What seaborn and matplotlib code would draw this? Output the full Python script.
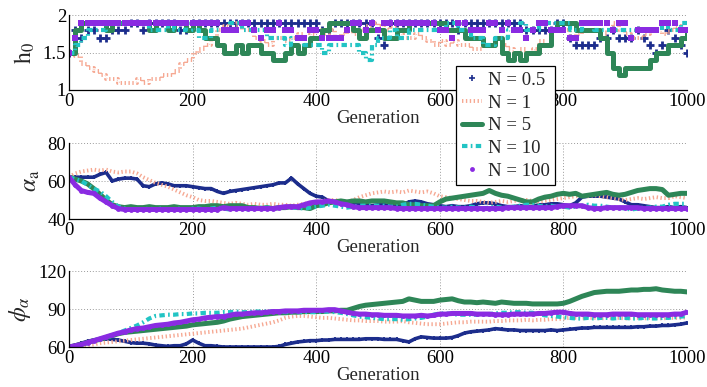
import numpy as np
import pandas as pd
import seaborn as sns
import matplotlib
matplotlib.use("Agg")
import matplotlib.pyplot as plt
from matplotlib.lines import Line2D

# ---------------- data (sampled every 10 generations) ----------------
generations = list(range(0, 1001, 10))
series_labels = ["N = 0.5", "N = 1", "N = 5", "N = 10", "N = 100"]
x_ticks = [0, 200, 400, 600, 800, 1000]

N05_h0 = [1.5,1.8,1.7,1.8,1.8,1.7,1.7,1.8,1.8,1.8,
          1.9,1.9,1.8,1.9,1.9,1.9,1.9,1.9,1.8,1.8,
          1.9,1.9,1.9,1.9,1.9,1.9,1.9,1.9,1.9,1.9,
          1.9,1.9,1.9,1.9,1.9,1.9,1.9,1.9,1.9,1.9,
          1.9,1.8,1.8,1.9,1.9,1.9,1.9,1.9,1.9,1.9,
          1.7,1.6,1.9,1.9,1.9,1.9,1.9,1.9,1.9,1.9,
          1.9,1.9,1.9,1.8,1.9,1.9,1.9,1.9,1.9,1.9,
          1.9,1.9,1.9,1.9,1.8,1.8,1.8,1.8,1.8,1.9,
          1.9,1.7,1.6,1.6,1.6,1.6,1.7,1.7,1.8,1.7,
          1.7,1.7,1.8,1.7,1.6,1.5,1.6,1.8,1.7,1.6,
          1.5]
N1_h0 = [1.5,1.45,1.35,1.3,1.25,1.2,1.15,1.15,1.1,1.1,
         1.1,1.15,1.1,1.15,1.15,1.2,1.2,1.25,1.35,1.4,
         1.5,1.55,1.6,1.7,1.8,1.85,1.9,1.85,1.8,1.8,
         1.7,1.65,1.6,1.7,1.7,1.65,1.7,1.75,1.7,1.75,
         1.8,1.75,1.8,1.7,1.75,1.8,1.75,1.8,1.85,1.9,
         1.85,1.8,1.85,1.75,1.7,1.7,1.75,1.7,1.65,1.6,
         1.65,1.6,1.65,1.6,1.6,1.55,1.55,1.6,1.6,1.7,
         1.6,1.55,1.5,1.55,1.5,1.55,1.65,1.6,1.8,1.8,
         1.8,1.7,1.75,1.8,1.8,1.8,1.75,1.8,1.9,1.8,
         1.75,1.7,1.7,1.75,1.8,1.8,1.75,1.8,1.85,1.8,
         1.8]
N5_h0 = [1.5,1.8,1.9,1.9,1.9,1.9,1.8,1.9,1.9,1.9,
         1.9,1.9,1.9,1.8,1.9,1.9,1.8,1.9,1.9,1.8,
         1.9,1.8,1.7,1.7,1.6,1.5,1.5,1.6,1.5,1.6,
         1.6,1.5,1.5,1.4,1.4,1.5,1.6,1.5,1.6,1.7,
         1.7,1.8,1.9,1.9,1.9,1.9,1.8,1.7,1.8,1.8,
         1.8,1.7,1.7,1.8,1.8,1.9,1.9,1.9,1.9,1.9,
         1.9,1.8,1.8,1.8,1.7,1.7,1.7,1.6,1.6,1.7,
         1.5,1.4,1.5,1.4,1.5,1.5,1.6,1.6,1.8,1.9,
         1.9,1.9,1.8,1.8,1.8,1.8,1.7,1.5,1.3,1.2,
         1.3,1.3,1.3,1.3,1.4,1.5,1.5,1.6,1.6,1.7,
         1.8]
N10_h0 = [1.5,1.6,1.7,1.8,1.8,1.8,1.9,1.9,1.9,1.9,
          1.9,1.9,1.9,1.8,1.8,1.8,1.9,1.8,1.8,1.9,
          1.8,1.7,1.7,1.8,1.8,1.8,1.9,1.9,1.8,1.8,
          1.8,1.8,1.7,1.7,1.7,1.6,1.7,1.7,1.6,1.6,
          1.6,1.5,1.6,1.6,1.6,1.6,1.6,1.5,1.4,1.6,
          1.7,1.7,1.8,1.7,1.7,1.8,1.8,1.8,1.8,1.8,
          1.8,1.9,1.9,1.8,1.8,1.7,1.7,1.6,1.6,1.7,
          1.7,1.8,1.8,1.9,1.8,1.8,1.9,1.9,1.9,1.9,
          1.9,1.8,1.8,1.9,1.9,1.8,1.8,1.8,1.8,1.8,
          1.8,1.8,1.8,1.8,1.8,1.8,1.9,1.8,1.8,1.9,
          1.9]
N100_h0 = [1.5,1.7,1.9,1.9,1.9,1.9,1.9,1.9,1.9,1.9,
           1.9,1.9,1.9,1.9,1.9,1.9,1.9,1.9,1.9,1.9,
           1.9,1.9,1.9,1.9,1.9,1.8,1.8,1.8,1.9,1.9,
           1.8,1.7,1.8,1.8,1.9,1.8,1.8,1.7,1.7,1.8,
           1.8,1.7,1.7,1.7,1.7,1.8,1.9,1.9,1.8,1.9,
           1.8,1.9,1.9,1.9,1.9,1.9,1.9,1.9,1.9,1.9,
           1.8,1.8,1.7,1.9,1.9,1.8,1.8,1.8,1.9,1.9,
           1.8,1.9,1.8,1.8,1.7,1.8,1.9,1.9,1.8,1.8,
           1.8,1.7,1.7,1.9,1.9,1.9,1.9,1.9,1.8,1.9,
           1.9,1.7,1.8,1.8,1.8,1.8,1.9,1.9,1.9,1.8,
           1.8]

N05_alpha = [62,62,62,62,62,63.5,64.5,60,61,61.5,
             61.5,61,57.5,57,58.5,59,58.5,57.5,57.5,57.5,
             57,56.5,56,56,54.5,53.5,54.5,55,55.5,56,
             56.5,57,57.5,58,59,59,61.5,58.5,56,53.5,
             52,51.5,49.5,49,49,48,47.5,47.5,47.5,47,
             47.5,47.5,47,47.5,47.5,49,49.5,49,48,47.5,
             47,46.5,47,46.5,46.5,47,48,48.5,48.5,48,
             47,46.5,46.5,47,46.5,46.5,47.5,47.5,48,48,
             47.5,47,48.5,51.5,52,52,52,51.5,51,50.5,
             49,47.5,47.5,47,46.5,46,46,46.5,46,46.5,
             46]
N1_alpha = [62,64,65,65.5,66,65.5,66,65,64.5,65,
            65,64,62,60.5,59,58,57,55.5,54,52.5,
            51.5,50,49.5,49.5,49,48.5,48,48.5,48,47.5,
            48,47.5,47.5,48,47.5,47.5,47,47.5,48,48.5,
            49,49.5,50,50,49.5,49,50,51.5,52.5,53.5,
            54,54.5,54,54.5,54,55,54.5,54,54.5,53.5,
            52,51.5,51,50.5,50,49.5,49.5,49,48.5,49,
            49.5,49,49.5,50,50,49.5,49,49.5,50,50.5,
            51,51.5,52,52.5,52,52.5,52,51.5,51,50.5,
            50,50.5,51,50.5,51,51.5,51,51,52,51.5,
            51]
N5_alpha = [62,61,60,58.5,56,53,50,47.5,46.5,46,
            46.5,46,46,46.5,46,46,46,46.5,46,46,
            46,46.5,46.5,47,47,46.5,47,47,47,46,
            46,45.5,46,45.5,46,46,46.5,46,46,45.5,
            47,47.5,48.5,49,49.5,49,49.5,49.5,49,49.5,
            49.5,49.5,49,48.5,48.5,47.5,47.5,47,47,47,
            49,50.5,51,51.5,52,52.5,53,53.5,55,53.5,
            52.5,52,51,50,49,49,50.5,51.5,52,53,
            53.5,53,53.5,52,52.5,53,53.5,54,53,52.5,
            53,54,55,55.5,56,56,55.5,52.5,53,53.5,
            53.5]
N10_alpha = [62,61,60,58,56,54.5,52,49,46.5,45.5,
             45,45,45,45.5,45,45.5,45,45,45.5,45,
             45.5,45.5,45,45.5,46,45.5,45,45.5,45.5,45,
             45.5,46,46,45.5,46,46.5,46,46,45.5,46,
             46.5,47,47.5,47,46.5,46,46.5,47,47,47,
             47,47,46.5,46.5,47.5,48,48,47.5,47,46.5,
             46,46,46.5,46,46,46.5,46,45.5,46,46.5,
             46,46,46.5,47,47.5,47.5,47,46.5,47,46.5,
             46.5,46,46.5,47,47.5,47,47,46.5,46,46,
             45.5,45,45.5,46,46,46.5,46.5,47.5,48,48,
             48]
N100_alpha = [62,58,55,54,53.5,51,49,47,45.5,45,
              45,45,45,45,45,45,45,45,45,45,
              45,45,45,45,45,46,45.5,45.5,45.5,45.5,
              45.5,45.5,45.5,45.5,46,46.5,46.5,46.5,47.5,48.5,
              49,49,49.5,49,48,47.5,46.5,46,46,46,
              46,46,46,45.5,45.5,45.5,45.5,45.5,45.5,45.5,
              45.5,45.5,45.5,45.5,45.5,45.5,45.5,45.5,45.5,45.5,
              45.5,46,46,46,46,46,46,46,46,46.5,
              47,47,47,47,46,45.5,45.5,46,46,46,
              46,46,46,45.5,45.5,45.5,45.5,45.5,45.5,45.5,
              45.5]

N05_phi = [60,61.5,63,64.5,65.5,66,66.5,66,65.5,64.5,
           63.5,63,63,62.5,61.5,61,60.5,61,61,62.5,
           65.5,63,61,61,60.5,60,60,60,60,60,
           60,60,60,60,60.5,62,63,64,64.5,65,
           65,65.5,65.5,66,66,66,66,66,66.5,66.5,
           66.5,66,66,66,65,64,66.5,68,67.5,67,
           67,67,67.5,69,71,72,72.5,73,73.5,74.5,
           74,73.5,73.5,73,73,73,73,73,73.5,73,
           73.5,74,74.5,75,75,75.5,75.5,75.5,75.5,75.5,
           75.5,75.5,76,76,76.5,76.5,77,77,77.5,78,
           79]
N1_phi = [60,60.5,61,61.5,62,63,63.5,64,64.5,65,
          65.5,66,66.5,67,67.5,68,68.5,69,69.5,70,
          70.5,71,71.5,72,72.5,73,73.5,74,74.5,75.5,
          76.5,77.5,78.5,79.5,81,83,84,84.5,84.5,84,
          83.5,83,83,82.5,82,81.5,81,81,80.5,80.5,
          80.5,80,80,80,80.5,79.5,79,78.5,78,78,
          78,78.5,79,79.5,79.5,80,80,80,80,80.5,
          80.5,81,81,81,81.5,81,81.5,81.5,82,82,
          82.5,83,83,82.5,83,83,82.5,83,83,83,
          82.5,83,83,82.5,83,83,82.5,83,83,83,
          83.5]
N5_phi = [60,61,62,63.5,65,66,67.5,69,70.5,71.5,
          72,72.5,73,73.5,74,74.5,75,75.5,76,76.5,
          77.5,78,78.5,79,79.5,80.5,82,83,84,84.5,
          85,85.5,86,86.5,87,87,87.5,87.5,88,88,
          88,88,88.5,88.5,89,89,90.5,92,93,93.5,
          94,94.5,95,95.5,96,98,97,96,96,96,
          97,97.5,98,96.5,95.5,95.5,95,95.5,95,94.5,
          95.5,95,94.5,94.5,94.5,94,94,94,94,94,
          94.5,96,98,100,101.5,103,103.5,104,104,104,
          104.5,105,105,105.5,105.5,106,105,104.5,104,104,
          103.5]
N10_phi = [60,61,62,63.5,65,66.5,67.5,69,71,73,
           75,77,79.5,82.5,84.5,85,85.5,85.5,86,86,
           86.5,86.5,87,87,87,87.5,87.5,88,87.5,87.5,
           88,88,88,88,88,87.5,87.5,87.5,87.5,87.5,
           87.5,88,88,87.5,87,86,85,84,83.5,83,
           82.5,82,82,82,81.5,82,82.5,83,84,85.5,
           86.5,86.5,86,85.5,85.5,85.5,85.5,86,86,86.5,
           87,87,87.5,87.5,87,87,86,85,84.5,84,
           83.5,83,82.5,82.5,83,82.5,83,83,82.5,83,
           83,82.5,82.5,83,82.5,82.5,83,83,83.5,84,
           84.5]
N100_phi = [60,61,62,63.5,65,66.5,68,69.5,71,72,
            73.5,74.5,75,76,77,77.5,78,79,79.5,80.5,
            81.5,82,83,83.5,84,84,85,86,86,86.5,
            87,87,87.5,88,88,88.5,88.5,88.5,89,89,
            89,89,89.5,89.5,88.5,87.5,86.5,86,86,85.5,
            85.5,85,85,85,84.5,84.5,84.5,85,84.5,85,
            86,86,86.5,86.5,86.5,86.5,86,86,86,85.5,
            85.5,85.5,86,86,86,86,86.5,86.5,87,87.5,
            87.5,86.5,86,86,86,85.5,85.5,85.5,86,86,
            86,86,85.5,85.5,85.5,85.5,85.5,85.5,86,86,
            87.5]

# ---------------- style ----------------
sns.set_theme(style="white")
plt.rcParams['font.family'] = ['Liberation Serif', 'DejaVu Serif']
plt.rcParams['mathtext.fontset'] = 'stix'

colors = ["#1c2d8c", "#f6a892", "#2e8657", "#22c4c4", "#8a2be2"]
FS = 13.5
DOT = (0, (0.35, 0.65))
DASHDOT = (0, (1.3, 0.8, 0.4, 0.8))

fig = plt.figure(figsize=(7.07, 3.87), dpi=100)
W, H = 707.0, 387.0
left = 69 / W
width = (687 - 69) / W
panels = [
    dict(top=15, bot=90, data=[N05_h0, N1_h0, N5_h0, N10_h0, N100_h0],
         ylim=(1, 2), yticks=[1, 1.5, 2], ylabels=["1", "1.5", "2"],
         ylabel=r"$\mathrm{h}_0$", step=True),
    dict(top=143, bot=219, data=[N05_alpha, N1_alpha, N5_alpha, N10_alpha, N100_alpha],
         ylim=(40, 80), yticks=[40, 60, 80], ylabels=["40", "60", "80"],
         ylabel=r"$\alpha_\mathrm{a}$", step=False),
    dict(top=271, bot=347, data=[N05_phi, N1_phi, N5_phi, N10_phi, N100_phi],
         ylim=(60, 120), yticks=[60, 90, 120], ylabels=["60", "90", "120"],
         ylabel=r"$\phi_\alpha$", step=False),
]

gens = np.array(generations)
for p in panels:
    ax = fig.add_axes([left, 1 - p["bot"] / H, width, (p["bot"] - p["top"]) / H])
    d = p["data"]
    ds = "steps-post" if p["step"] else "default"
    # N = 0.5
    if p["step"]:
        sns.lineplot(x=gens, y=d[0], ax=ax, color=colors[0], linestyle="none",
                     marker="+", markersize=5.5, markeredgewidth=2.0,
                     markeredgecolor=colors[0], legend=False)
    else:
        sns.lineplot(x=gens, y=d[0], ax=ax, color=colors[0], linewidth=2.6,
                     marker="+", markersize=3.2, markeredgewidth=1.3,
                     markeredgecolor=colors[0], legend=False)
    # N = 1
    sns.lineplot(x=gens, y=d[1], ax=ax, color=colors[1], linewidth=2.8,
                 linestyle=DOT, drawstyle=ds, legend=False)
    # N = 5
    sns.lineplot(x=gens, y=d[2], ax=ax, color=colors[2], linewidth=3.6,
                 drawstyle=ds, legend=False)
    # N = 10
    sns.lineplot(x=gens, y=d[3], ax=ax, color=colors[3], linewidth=3.0,
                 linestyle=DASHDOT, drawstyle=ds, legend=False)
    # N = 100
    if p["step"]:
        sns.lineplot(x=gens, y=d[4], ax=ax, color=colors[4], linestyle="none",
                     marker="s", markersize=4.6, markeredgewidth=0,
                     markeredgecolor=colors[4], legend=False)
    else:
        sns.lineplot(x=gens, y=d[4], ax=ax, color=colors[4], linewidth=3.6,
                     marker="o", markersize=3.5, markeredgewidth=0,
                     markeredgecolor=colors[4], legend=False)

    ax.set_xlim(0, 1000)
    ax.set_ylim(*p["ylim"])
    ax.set_xticks(x_ticks)
    ax.set_xticklabels([str(t) for t in x_ticks], fontsize=FS)
    ax.set_yticks(p["yticks"])
    ax.set_yticklabels(p["ylabels"], fontsize=FS)
    ax.tick_params(direction="in", length=4, width=0.8, pad=2, colors="black")
    ax.grid(True, linestyle=(0, (1, 2)), color="#9a9a9a", linewidth=0.7)
    for s in ["top", "right"]:
        ax.spines[s].set_visible(False)
    for s in ["left", "bottom"]:
        ax.spines[s].set_color("black")
        ax.spines[s].set_linewidth(0.9)
    ax.set_xlabel("Generation", fontsize=FS, labelpad=0)
    ax.set_ylabel(p["ylabel"], fontsize=17, labelpad=4)
    ax.set_facecolor("white")

handles = [
    Line2D([], [], color=colors[0], linestyle="none", marker="+", markersize=4,
           markeredgewidth=1.2, markeredgecolor=colors[0]),
    Line2D([], [], color=colors[1], lw=2.8, linestyle=DOT),
    Line2D([], [], color=colors[2], lw=3.6),
    Line2D([], [], color=colors[3], lw=3.0, linestyle=DASHDOT),
    Line2D([], [], color=colors[4], linestyle="none", marker="o", markersize=3.5,
           markeredgewidth=0),
]
leg = fig.legend(handles, series_labels, loc="upper left",
                 bbox_to_anchor=(456 / W, 1 - 66 / H), fontsize=FS,
                 frameon=True, fancybox=False, framealpha=1, edgecolor="black",
                 handlelength=1.1, handletextpad=0.3, labelspacing=0.3,
                 borderpad=0.3, borderaxespad=0)
leg.get_frame().set_linewidth(0.9)

fig.savefig("out.png", dpi=100, facecolor="white")
